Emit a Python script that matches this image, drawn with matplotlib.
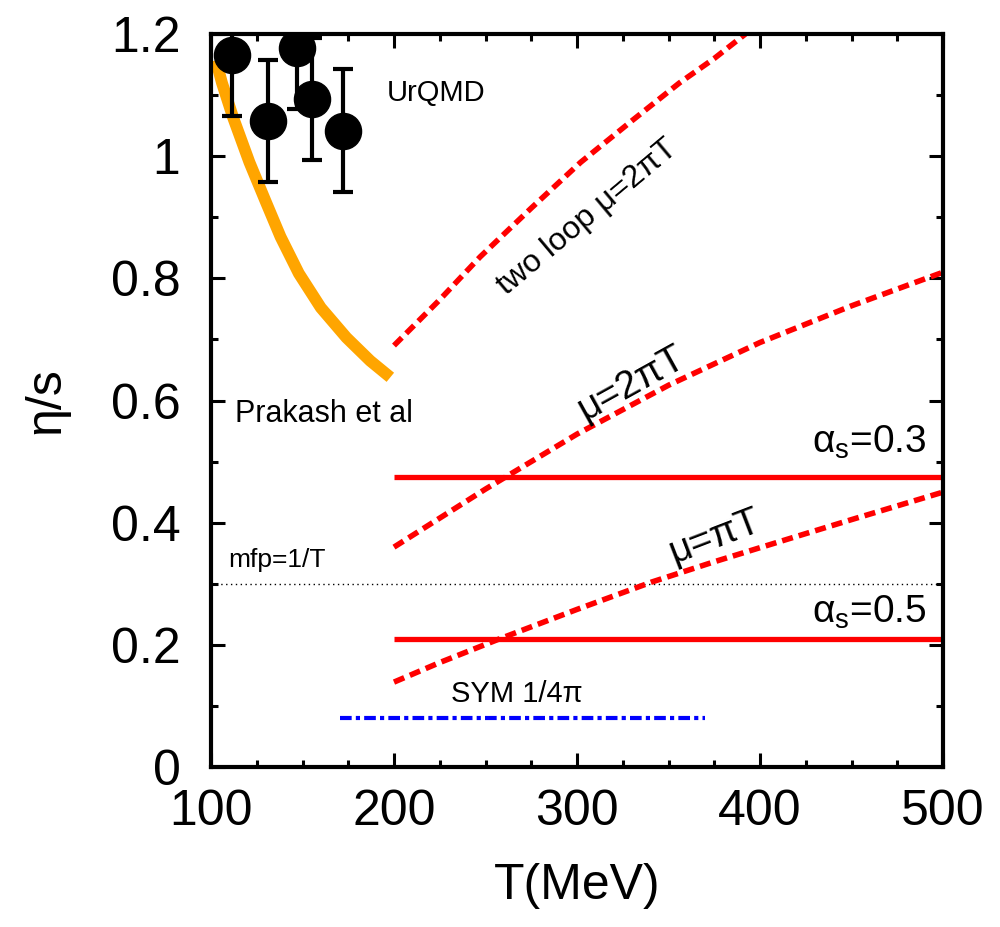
import numpy as np
import matplotlib
matplotlib.use("Agg")
import matplotlib.pyplot as plt
from matplotlib.ticker import MultipleLocator, FormatStrFormatter

plt.rcParams['font.family'] = ['Liberation Sans', 'DejaVu Sans']
plt.rcParams['mathtext.fontset'] = 'custom'
plt.rcParams['mathtext.rm'] = 'Liberation Sans'
plt.rcParams['mathtext.it'] = 'Liberation Sans:italic'

# UrQMD points
urqmd_T = [111.5, 131, 147, 155, 172]
urqmd_eta = [1.165, 1.058, 1.177, 1.093, 1.042]
urqmd_err = [0.10, 0.10, 0.10, 0.10, 0.10]

# Prakash et al curve
prakash_T = [102.7, 106, 112, 121, 130, 138, 148, 160, 174, 187, 198]
prakash_eta = [1.157, 1.12, 1.064, 0.99, 0.925, 0.868, 0.808, 0.752, 0.703, 0.665, 0.638]

# perturbative curves
twoloop_T = [200, 225, 247, 275, 302, 330, 356, 375, 392]
twoloop_eta = [0.69, 0.765, 0.835, 0.915, 0.99, 1.058, 1.12, 1.16, 1.20]
mu2pi_T = [200, 250, 300, 350, 400, 450, 500]
mu2pi_eta = [0.36, 0.455, 0.545, 0.625, 0.695, 0.755, 0.81]
mupi_T = [200, 225, 257, 300, 341, 375, 414, 450, 500]
mupi_eta = [0.139, 0.171, 0.209, 0.258, 0.303, 0.336, 0.372, 0.405, 0.45]

alpha_T = [200, 500]
alpha03 = 0.475
alpha05 = 0.21
mfp = 0.3
sym_T = [170.5, 370]
sym = 1 / (4 * np.pi)

fig = plt.figure(figsize=(10, 9.27), dpi=100)
ax = fig.add_axes([0.211, 0.1726, 0.732, 0.7907])

ax.plot([100, 500], [mfp, mfp], color='black', lw=1.0, ls=(0, (1, 2.5)))
ax.plot(prakash_T, prakash_eta, color='#FFA500', lw=8.5, solid_capstyle='butt')
ax.plot(alpha_T, [alpha03, alpha03], color='#FF0000', lw=3.8, solid_capstyle='butt')
ax.plot(alpha_T, [alpha05, alpha05], color='#FF0000', lw=3.8, solid_capstyle='butt')
for T, e in [(twoloop_T, twoloop_eta), (mu2pi_T, mu2pi_eta), (mupi_T, mupi_eta)]:
    ax.plot(T, e, color='#FF0000', lw=4.0, ls=(0, (2.0, 1.1)))
ax.plot(sym_T, [sym, sym], color='#0000FF', lw=3.0, ls=(0, (2.8, 1, 1, 1)))

ax.errorbar(urqmd_T, urqmd_eta, yerr=urqmd_err, fmt='o', color='black', ms=26,
            elinewidth=3, capsize=7, capthick=3, zorder=5)

ax.text(196, 1.103, 'UrQMD', fontsize=21, va='center')
ax.text(113, 0.578, 'Prakash et al', fontsize=22, va='center')
ax.text(109.5, 0.328, 'mfp=1/T', fontsize=19, va='baseline')
ax.text(267, 0.107, 'SYM 1/4π', fontsize=21, ha='center', va='baseline')
ax.text(305.5, 0.90, 'two loop μ=2πT', fontsize=23, rotation=40,
        ha='center', va='center', rotation_mode='anchor')
ax.text(330, 0.628, 'μ=2πT', fontsize=28, rotation=29,
        ha='center', va='center', rotation_mode='anchor')
ax.text(375.4, 0.376, 'μ=πT', fontsize=28, rotation=21,
        ha='center', va='center', rotation_mode='anchor')
ax.text(491, 0.515, r'$\mathregular{\alpha_s}$=0.3', fontsize=28, ha='right', va='baseline')
ax.text(491, 0.237, r'$\mathregular{\alpha_s}$=0.5', fontsize=28, ha='right', va='baseline')

ax.set_xlim(100, 500)
ax.set_ylim(0, 1.2)
ax.xaxis.set_major_locator(MultipleLocator(100))
ax.xaxis.set_minor_locator(MultipleLocator(25))
ax.yaxis.set_major_locator(MultipleLocator(0.2))
ax.yaxis.set_minor_locator(MultipleLocator(0.1))
ax.yaxis.set_major_formatter(FormatStrFormatter('%g'))
ax.tick_params(which='both', direction='in', top=True, right=True, labelsize=36, width=2.2)
ax.tick_params(which='major', length=10)
ax.tick_params(which='minor', length=5)
ax.tick_params(axis='x', which='major', pad=16)
ax.tick_params(axis='y', which='major', pad=22)
for s in ax.spines.values():
    s.set_linewidth(3)

ax.set_xlabel('T(MeV)', fontsize=36, labelpad=20)
ax.set_ylabel('η/s', fontsize=36, labelpad=30)

fig.savefig('out.png', dpi=100)
